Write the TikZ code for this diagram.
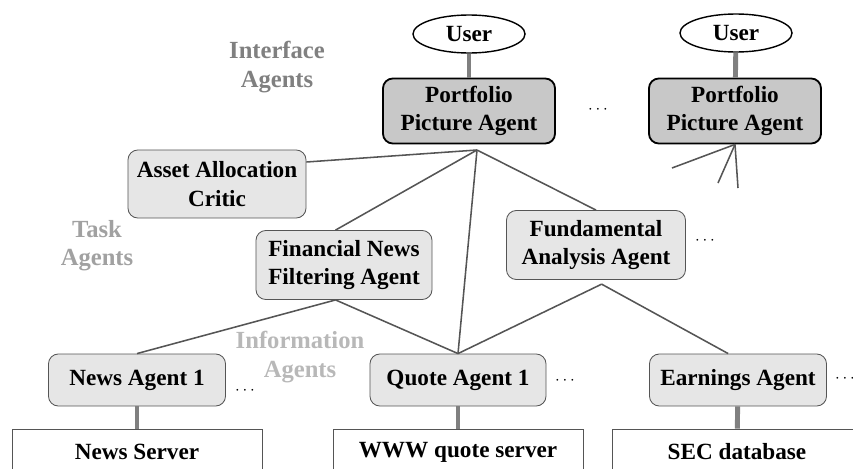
\documentclass[tikz,border=0pt]{standalone}
\usepackage{fontspec}
\setmainfont{Liberation Serif}
\usetikzlibrary{shapes.geometric}
\definecolor{linegray}{RGB}{85,85,85}
\definecolor{linkgray}{RGB}{128,128,128}
\definecolor{darkfill}{RGB}{200,200,200}
\definecolor{lightfill}{RGB}{230,230,230}
\begin{document}
\begin{tikzpicture}[x=0.025cm,y=-0.025cm,
    every node/.style={font=\fontsize{16.5}{20}\selectfont\bfseries,align=center},
    user/.style={ellipse,draw,line width=1pt,inner sep=0pt,minimum width=2.8cm,minimum height=0.95cm},
    iface/.style={rectangle,rounded corners=7pt,draw,line width=1.3pt,fill=darkfill,minimum width=4.3cm,minimum height=1.625cm},
    agent/.style={rectangle,rounded corners=7pt,draw=linegray,line width=0.6pt,fill=lightfill,minimum width=4.4cm,minimum height=1.7cm},
    info/.style={agent,minimum height=1.3cm},
    server/.style={rectangle,draw=linegray,line width=0.6pt,minimum width=6.25cm,minimum height=1.15cm},
    level/.style={font=\fontsize{17.5}{20}\selectfont\bfseries},
    more/.style={font=\fontsize{12}{14}\selectfont},
    link/.style={linkgray,line width=3.5pt},
    wire/.style={linegray,line width=1.1pt}]
    \clip (0,0) rectangle (853,468);
    % users and interface agents
    \node[user] (u1) at (469,34) {User};
    \node[user] (u2) at (736,33) {User};
    \node[iface] (p1) at (469,111) {Portfolio\\Picture Agent};
    \node[iface] (p2) at (735,111) {Portfolio\\Picture Agent};
    \node[more] (d1) at (598,110) {$\cdots$};
    % task agents
    \node[agent,minimum width=4.45cm] (critic) at (217,184) {Asset Allocation\\Critic};
    \node[agent,minimum height=1.725cm] (fin) at (344,265) {Financial News\\Filtering Agent};
    \node[agent,minimum width=4.475cm,minimum height=1.725cm] (fund) at (596,245) {Fundamental\\Analysis Agent};
    \node[more] (d2) at (705,241) {$\cdots$};
    % information agents
    \node[info,minimum width=4.425cm] (news) at (137,380) {News Agent 1};
    \node[info] (quote) at (458,380) {Quote Agent 1};
    \node[info,minimum width=4.425cm] (earn) at (738,380) {Earnings Agent};
    \node[more] (d3) at (245,391) {$\cdots$};
    \node[more] (d4) at (565,381) {$\cdots$};
    \node[more] (d5) at (845,379) {$\cdots$};
    % sources
    \node[server] (nsrv) at (137,452) {News Server};
    \node[server] (qsrv) at (458,452) {WWW quote server};
    \node[server] (ssrv) at (737,452) {SEC database};
    % level labels
    \node[level,text=linkgray] (l1) at (277,67) {Interface\\Agents};
    \node[level,text=black!37] (l2) at (97,246) {Task\\Agents};
    \node[level,text=black!28] (l3) at (300,357) {Information\\Agents};
    % ends of lines
    \coordinate (hub) at (477,150);
    \coordinate (a1) at (672,168);
    \coordinate (a2) at (718,183);
    \coordinate (a3) at (738,188);
    \draw[link] (u1) -- (p1);
    \draw[link] (u2) -- (p2);
    \draw[link] (news) -- (nsrv);
    \draw[link] (quote) -- (qsrv);
    \draw[link] (earn) -- (ssrv);
    \draw[wire] (hub) -- (critic.east |- 0,162);
    \draw[wire] (hub) -- ([xshift=-6pt]fin.north);
    \draw[wire] (hub) -- (quote.north);
    \draw[wire] (hub) -- (fund.north);
    \draw[wire] ([xshift=-6pt]fin.south) -- (news.north);
    \draw[wire] ([xshift=-6pt]fin.south) -- (quote.north);
    \draw[wire] ([yshift=-3pt,xshift=4pt]fund.south) -- (quote.north);
    \draw[wire] ([yshift=-3pt,xshift=4pt]fund.south) -- ([xshift=-7pt]earn.north);
    \draw[wire] (p2.south) -- (a1);
    \draw[wire] (p2.south) -- (a2);
    \draw[wire] (p2.south) -- (a3);
\end{tikzpicture}
\end{document}
